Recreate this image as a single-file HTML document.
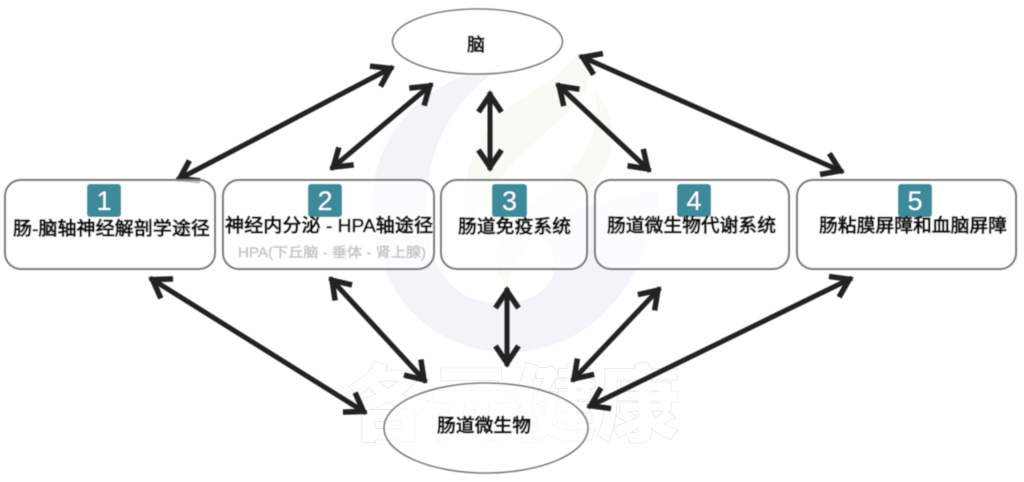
<!DOCTYPE html>
<html lang="zh">
<head>
<meta charset="utf-8">
<style>
html,body{margin:0;padding:0;background:#fff;width:1024px;height:482px;overflow:hidden}
svg{display:block}
text{font-family:"Liberation Sans","Noto Sans CJK SC",sans-serif}
.t{font-size:18.5px;fill:#111;stroke:#111;stroke-width:.6px;font-weight:500}
.n{font-size:27px;fill:#fff;text-anchor:middle}
</style>
</head>
<body>
<svg width="1024" height="482" viewBox="0 0 1024 482" xmlns="http://www.w3.org/2000/svg">
<defs>
<marker id="h" markerUnits="userSpaceOnUse" markerWidth="40" markerHeight="40" viewBox="-30 -20 40 40" refX="0" refY="0" orient="auto-start-reverse">
<path d="M-20,-11.5 L-3,0 L-20,11.5" fill="none" stroke="#222" stroke-width="5.5" stroke-linejoin="miter"/>
</marker>
<filter id="b" x="-5%" y="-5%" width="110%" height="110%"><feGaussianBlur stdDeviation="0.5"/></filter>
</defs>
<rect width="1024" height="482" fill="#fff"/>

<!-- watermark logo -->
<path d="M508,64 C430,75 372,130 372,205 C372,290 430,352 507,352 C590,352 645,290 660,190 C615,198 570,208 530,226 C570,255 560,300 505,303 C450,305 425,265 426,205 C428,140 460,90 508,64 Z" fill="#f1f5fa"/>
<path d="M578,50 C588,72 590,85 585,92 C560,125 520,150 495,185 C480,205 470,225 467,245 C460,200 464,160 490,125 C515,95 560,85 578,50 Z" fill="#f8fbf4"/>
<path d="M595,92 C622,120 618,160 585,195 C550,230 510,250 507,287 C488,262 495,232 530,205 C565,178 605,150 595,92 Z" fill="#f8fbf4"/>

<!-- watermark text -->
<text x="346" y="434" font-size="83" font-weight="900" fill="#fff" stroke="#ebebeb" stroke-width="1.8" paint-order="stroke" textLength="334" lengthAdjust="spacingAndGlyphs" style="font-family:'Noto Sans CJK SC',sans-serif">各元健康</text>

<g filter="url(#b)">
<!-- ellipses -->
<ellipse cx="477.5" cy="41.5" rx="85" ry="32.5" fill="#fff" fill-opacity="0.85" stroke="#777" stroke-width="1.6"/>
<ellipse cx="486" cy="428" rx="102" ry="45" fill="#fff" fill-opacity="0.55" stroke="#777" stroke-width="1.6"/>

<!-- arrows -->
<g stroke="#222" stroke-width="5" fill="none" marker-start="url(#h)" marker-end="url(#h)">
<line x1="393" y1="67" x2="177" y2="180"/>
<line x1="432" y1="84" x2="331" y2="169"/>
<line x1="490" y1="92" x2="490" y2="170"/>
<line x1="557" y1="84" x2="650" y2="171"/>
<line x1="580" y1="56" x2="843" y2="172"/>
<line x1="150" y1="278" x2="366" y2="413"/>
<line x1="330" y1="278" x2="426" y2="382"/>
<line x1="507" y1="288" x2="507" y2="366"/>
<line x1="660" y1="288" x2="572" y2="381"/>
<line x1="852" y1="278" x2="588" y2="407"/>
</g>

<!-- boxes -->
<g fill="#fff" fill-opacity="0.72" stroke="#777" stroke-width="2">
<rect x="5" y="180" width="210" height="89" rx="16"/>
<rect x="223" y="180" width="211" height="89" rx="16"/>
<rect x="441" y="180" width="146" height="89" rx="16"/>
<rect x="595" y="180" width="194" height="89" rx="16"/>
<rect x="797" y="180" width="219" height="89" rx="16"/>
</g>

<!-- badges -->
<g fill="#3e8a9b">
<rect x="87" y="184" width="34" height="33" rx="3"/>
<rect x="308" y="184" width="34" height="33" rx="3"/>
<rect x="492" y="184" width="35" height="33" rx="3"/>
<rect x="677" y="184" width="34" height="33" rx="3"/>
<rect x="898" y="184" width="34" height="33" rx="3"/>
</g>
<text class="n" x="104" y="210">1</text>
<text class="n" x="325" y="210">2</text>
<text class="n" x="509.5" y="210">3</text>
<text class="n" x="694" y="210">4</text>
<text class="n" x="915" y="210">5</text>

<!-- labels -->
<text class="t" x="13" y="235" textLength="197" lengthAdjust="spacingAndGlyphs">肠-脑轴神经解剖学途径</text>
<text class="t" x="225" y="232" textLength="208" lengthAdjust="spacingAndGlyphs">神经内分泌 - HPA轴途径</text>
<text x="238" y="257" font-size="13.5" fill="#c4c4c4" textLength="188" lengthAdjust="spacingAndGlyphs" stroke="#c4c4c4" stroke-width=".4">HPA(下丘脑 - 垂体 - 肾上腺)</text>
<text class="t" x="458" y="233" textLength="113" lengthAdjust="spacingAndGlyphs">肠道免疫系统</text>
<text class="t" x="607" y="232" textLength="169" lengthAdjust="spacingAndGlyphs">肠道微生物代谢系统</text>
<text class="t" x="819" y="232" textLength="188" lengthAdjust="spacingAndGlyphs">肠粘膜屏障和血脑屏障</text>
<text class="t" x="467" y="51" style="font-size:18px">脑</text>
<text class="t" x="437" y="432" textLength="94" lengthAdjust="spacingAndGlyphs">肠道微生物</text>
</g>
</svg>
</body>
</html>
